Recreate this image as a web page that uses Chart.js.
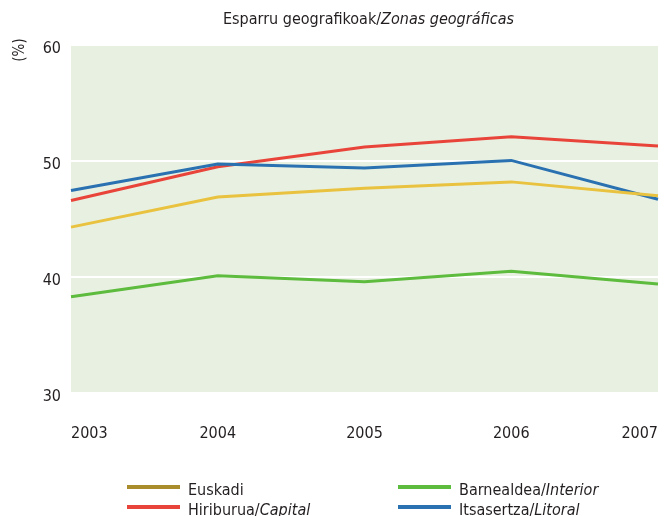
<!DOCTYPE html>
<html lang="eu">
<head>
  <meta charset="UTF-8">
  <title>Esparru geografikoak / Zonas geográficas</title>
  <style>
    html, body { margin: 0; padding: 0; background: #fff; }
    .chart-container { width: 664px; height: 516px; }
  </style>
</head>
<body>
  <div class="chart-container">
    <canvas id="geoChart" width="664" height="516"></canvas>
  </div>

  <script src="https://cdn.jsdelivr.net/npm/chart.js"></script>
  <script>
    const years = ['2003', '2004', '2005', '2006', '2007'];
    const yTicks = [30, 40, 50, 60];

    const euskadi = [44.3, 46.9, 47.65, 48.2, 47.0];
    const interior = [38.3, 40.1, 39.6, 40.5, 39.4];
    const capital = [46.6, 49.5, 51.2, 52.1, 51.3];
    const litoral = [47.45, 49.75, 49.4, 50.05, 46.7];

    const font = '"Liberation Sans Narrow", "DejaVu Sans Condensed", "Arial Narrow", sans-serif';
    const textColor = '#231f20';

    // legend entries: [plain part, italic part, colour of the legend line]
    const legendItems = [
      { plain: 'Euskadi', italic: '', color: '#a98c2c', col: 0, row: 0 },
      { plain: 'Barnealdea/', italic: 'Interior', color: '#5dbb3d', col: 1, row: 0 },
      { plain: 'Hiriburua/', italic: 'Capital', color: '#e9443a', col: 0, row: 1 },
      { plain: 'Itsasertza/', italic: 'Litoral', color: '#2a71b1', col: 1, row: 1 }
    ];

    const mixedText = (ctx, plain, italic, x, y, size) => {
      ctx.font = size + 'px ' + font;
      ctx.fillText(plain, x, y);
      const w = ctx.measureText(plain).width;
      ctx.font = 'italic ' + size + 'px ' + font;
      ctx.fillText(italic, x + w, y);
    };

    const decor = {
      id: 'decor',
      beforeDraw(chart) {
        const { ctx, chartArea: a } = chart;
        ctx.save();
        ctx.fillStyle = '#e8f0e1';
        ctx.fillRect(a.left, a.top, a.right - a.left, a.bottom - a.top);
        ctx.restore();
      },
      afterDraw(chart) {
        const { ctx, chartArea: a } = chart;
        ctx.save();
        ctx.fillStyle = textColor;
        ctx.textBaseline = 'middle';

        // title
        ctx.font = '16px ' + font;
        const p1 = 'Esparru geografikoak/';
        const w1 = ctx.measureText(p1).width;
        ctx.font = 'italic 16px ' + font;
        const w2 = ctx.measureText('Zonas geográficas').width;
        const tx = (a.left + a.right) / 2 + 4 - (w1 + w2) / 2;
        mixedText(ctx, p1, 'Zonas geográficas', tx, 20, 16);

        // unit label
        ctx.save();
        ctx.translate(20, 50);
        ctx.rotate(-Math.PI / 2);
        ctx.textAlign = 'center';
        ctx.font = '15px ' + font;
        ctx.fillText('(%)', 0, 0);
        ctx.restore();

        // legend
        legendItems.forEach(it => {
          const x0 = it.col === 0 ? 127 : 398;
          const y0 = 487 + it.row * 20;
          ctx.strokeStyle = it.color;
          ctx.lineWidth = 4;
          ctx.beginPath();
          ctx.moveTo(x0, y0);
          ctx.lineTo(x0 + 53, y0);
          ctx.stroke();
          ctx.fillStyle = textColor;
          mixedText(ctx, it.plain, it.italic, x0 + 61, y0 + 4, 16);
        });
        ctx.restore();
      }
    };

    const line = (label, data, color) => ({
      label: label,
      data: data,
      borderColor: color,
      backgroundColor: color,
      borderWidth: 3,
      pointRadius: 0,
      tension: 0,
      fill: false
    });

    new Chart(document.getElementById('geoChart'), {
      type: 'line',
      data: {
        labels: years,
        datasets: [
          line('Euskadi', euskadi, '#e9c23f'),
          line('Barnealdea/Interior', interior, '#5dbb3d'),
          line('Itsasertza/Litoral', litoral, '#2a71b1'),
          line('Hiriburua/Capital', capital, '#e9443a')
        ]
      },
      options: {
        responsive: false,
        animation: false,
        layout: { padding: { top: 45, right: 6, left: 0, bottom: 0 } },
        plugins: {
          legend: { display: false },
          title: { display: false },
          tooltip: { enabled: false }
        },
        scales: {
          x: {
            offset: false,
            grid: { display: false, drawTicks: false },
            border: { display: false },
            ticks: {
              align: 'inner',
              padding: 31,
              color: textColor,
              font: { family: font, size: 16 },
              maxRotation: 0
            },
            afterFit: (s) => { s.height = 123; s.paddingLeft = 0; s.paddingRight = 0; }
          },
          y: {
            min: 30,
            max: 60,
            afterBuildTicks: (s) => { s.ticks = yTicks.map(v => ({ value: v })); },
            grid: { color: '#ffffff', lineWidth: 2, drawTicks: false },
            border: { display: false },
            ticks: {
              padding: 10,
              labelOffset: 4,
              color: textColor,
              font: { family: font, size: 16 }
            },
            afterFit: (s) => { s.width = 71; }
          }
        }
      },
      plugins: [decor]
    });
  </script>
</body>
</html>
